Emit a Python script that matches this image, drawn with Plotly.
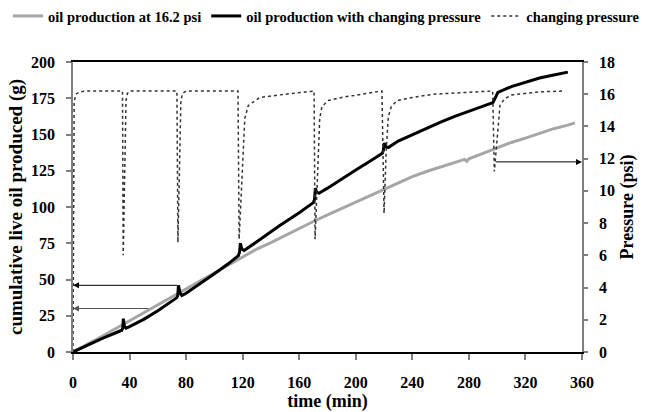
import plotly.graph_objects as go

# ---------------- data ----------------
# oil production at constant 16.2 psi (gray)
t_const = [0, 10, 20, 30, 40, 50, 60, 70, 80, 90, 100, 110, 120, 130, 140, 150, 160,
           170, 180, 190, 200, 210, 220, 230, 240, 250, 260, 270, 277, 278.5, 280,
           290, 300, 310, 320, 330, 340, 350, 355]
oil_const = [0, 5, 10.5, 16, 21.5, 27.5, 33, 38.5, 44, 49.5, 55, 60.5, 66, 71, 75.5, 80.5, 85,
             90, 94.5, 99, 103.5, 108, 112.5, 117, 121, 124.5, 127.5, 130.5, 132.8, 131.5, 133.2,
             137, 141, 144.5, 147.5, 151, 154, 156.5, 158]

# oil production with changing pressure (black)
t_var = [0, 5, 10, 20, 30, 34.5, 35.2, 35.6, 36.3, 37.5, 40, 50, 60, 70, 73.5, 74.1, 74.6,
         75.6, 77, 80, 90, 100, 110, 117, 117.8, 118.4, 119.4, 121, 130, 140, 146, 160,
         170, 170.8, 171.4, 172.4, 174, 180, 190, 200, 210, 218.8, 219.5, 220.1, 221.2,
         223, 230, 240, 250, 260, 270, 280, 290, 297, 298.5, 300.5, 310, 320, 330, 340, 350]
oil_var = [0, 2, 4.5, 9, 13, 15, 16.5, 23, 18, 16.5, 17.5, 22.5, 28.5, 35, 37.5, 39, 46,
           41, 39, 40.5, 47, 54, 61, 66.5, 69, 75, 71, 70, 76, 83, 87, 96,
           103, 105, 113, 110, 109.5, 113, 119.5, 125.5, 131.5, 137, 139, 144, 141.5,
           141, 145.5, 150, 154.5, 158.5, 162.5, 166, 169.5, 172, 175, 179, 183, 186, 189, 191, 193]

# changing pressure (dotted, right axis)
t_p = [0, 0.8, 2, 5, 10, 35, 35.5, 37.5, 38.5, 40, 73.5, 74.2, 76.3, 77.5, 80,
       116.7, 117.5, 120.5, 121.5, 124, 132, 150, 169.5,
       170.5, 171.2, 173.5, 174.5, 176, 180, 190, 205, 218.5,
       220, 221.5, 223, 225, 229, 240, 255, 275, 296.8,
       298, 300.5, 302, 305, 310, 330, 348]
p_var = [0, 15.5, 16.0, 16.15, 16.2, 16.2, 6.0, 15.6, 16.05, 16.2, 16.2, 6.8, 15.6, 16.05, 16.2,
         16.2, 7.0, 12.0, 14.5, 15.3, 15.8, 16.0, 16.2,
         16.2, 7.0, 12.0, 14.5, 15.2, 15.6, 15.8, 16.0, 16.2,
         8.6, 12.5, 14.6, 15.2, 15.6, 15.8, 16.0, 16.1, 16.2,
         11.2, 13.5, 15.3, 15.7, 15.95, 16.15, 16.2]

# arrows (value, tail time) pointing to the axes
left_arrow_vals = [46, 30]
left_arrow_from = [74.6, 54.5]
left_arrow_colors = ["#000000", "#555555"]
right_arrow_val = 11.8
right_arrow_from = 298

x_ticks = [0, 40, 80, 120, 160, 200, 240, 280, 320, 360]

# ---------------- figure ----------------
W, H = 652, 412
FONT = "Liberation Serif, Times New Roman, serif"

fig = go.Figure()
fig.add_trace(go.Scatter(x=t_const, y=oil_const, mode="lines",
                         name="oil production at 16.2 psi",
                         line=dict(color="#a6a6a6", width=3)))
fig.add_trace(go.Scatter(x=t_var, y=oil_var, mode="lines",
                         name="oil production with changing pressure",
                         line=dict(color="#000000", width=3)))
fig.add_trace(go.Scatter(x=t_p, y=p_var, mode="lines", yaxis="y2",
                         name="changing pressure",
                         line=dict(color="#333333", width=1.5, dash="dot")))

annotations = []
for v, t0, c in zip(left_arrow_vals, left_arrow_from, left_arrow_colors):
    annotations.append(dict(x=0, y=v, xref="x", yref="y", ax=t0, ay=v, axref="x", ayref="y",
                            text="", showarrow=True, arrowhead=2, arrowsize=1.2,
                            arrowwidth=1, arrowcolor=c))
annotations.append(dict(x=360, y=right_arrow_val, xref="x", yref="y2",
                        ax=right_arrow_from, ay=right_arrow_val, axref="x", ayref="y2",
                        text="", showarrow=True, arrowhead=2, arrowsize=1.2,
                        arrowwidth=1, arrowcolor="#000000"))

tickfont = dict(family=FONT, size=16, color="black", weight="bold")
titlefont = dict(family=FONT, size=18, color="black", weight="bold")

fig.update_layout(
    width=W, height=H,
    margin=dict(l=0, r=0, t=62, b=60, autoexpand=False),
    paper_bgcolor="white", plot_bgcolor="white",
    showlegend=True,
    legend=dict(orientation="h", x=8 / W, xanchor="left", y=1, yref="container",
                yanchor="top", font=dict(family=FONT, size=14.5, color="black", weight="bold"),
                bgcolor="rgba(0,0,0,0)", itemwidth=30, traceorder="normal"),
    xaxis=dict(domain=[73 / W, 582 / W], range=[0, 360], tickvals=x_ticks,
               showgrid=False, zeroline=False, showline=True, linecolor="black",
               linewidth=2, mirror=True, ticks="outside", ticklen=6, tickwidth=1.5,
               tickcolor="#7f7f7f", tickfont=tickfont, ticklabelstandoff=9,
               title=dict(text="time (min)", font=titlefont, standoff=5)),
    yaxis=dict(range=[0, 200], dtick=25, tick0=0, showgrid=False, zeroline=False,
               showline=True, linecolor="#7f7f7f", linewidth=1.5, ticks="outside",
               ticklen=5, tickwidth=1.5, tickcolor="#7f7f7f", tickfont=tickfont,
               ticklabelstandoff=8, anchor="x",
               title=dict(text="cumulative live oil produced (g)",
                          font=dict(family=FONT, size=19, color="black", weight="bold"),
                          standoff=3)),
    yaxis2=dict(range=[0, 18], dtick=2, tick0=0, overlaying="y", side="right",
                anchor="x", showgrid=False, zeroline=False, showline=True,
                linecolor="#7f7f7f", linewidth=1.5, ticks="outside", ticklen=4,
                tickwidth=1.5, tickcolor="#7f7f7f", tickfont=tickfont,
                ticklabelstandoff=8,
                title=dict(text="Pressure (psi)", font=titlefont, standoff=6)),
    annotations=annotations,
)

fig.write_html("out.html")
